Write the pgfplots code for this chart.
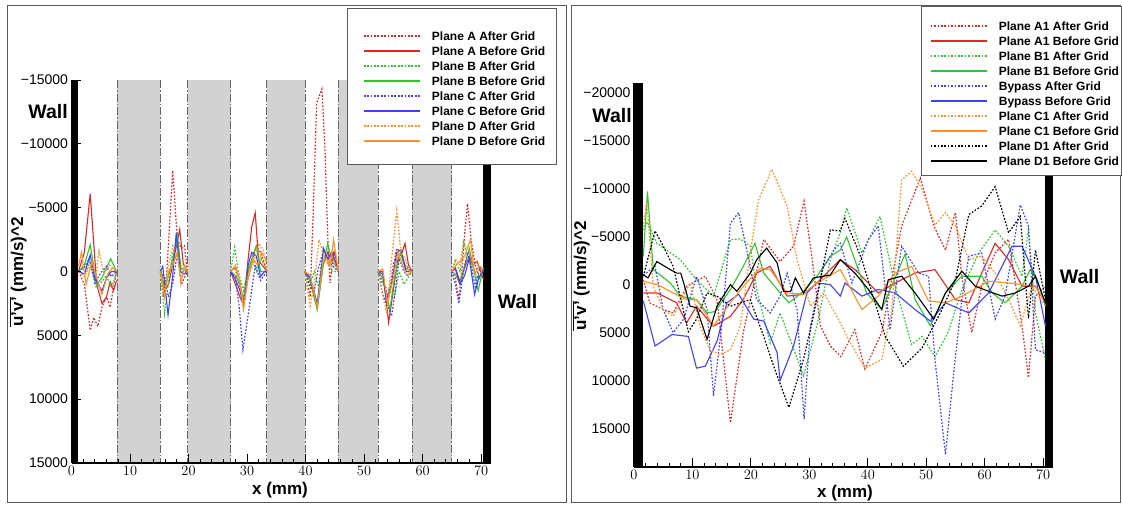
\documentclass[border=0pt]{standalone}
\usepackage{fontspec}
\setmainfont{Liberation Sans}
\usepackage{pgfplots}
\pgfplotsset{compat=1.18}

\definecolor{cR}{RGB}{225,40,40}
\definecolor{cG}{RGB}{45,200,45}
\definecolor{cB}{RGB}{65,65,250}
\definecolor{cO}{RGB}{255,145,40}

\tikzset{
  aft/.style={line width=1.2pt, dash pattern=on 1.7pt off 1.7pt},
  bef/.style={line width=1.1pt, solid},
  band/.style={black!60, line width=0.9pt, dash pattern=on 8pt off 2pt on 1.5pt off 2pt},
}
\pgfplotsset{
  panel/.style={
    scale only axis, anchor=south west, clip=false, axis on top,
    axis x line*=bottom, axis y line*=left,
    axis line style={-, line width=1.2pt},
    xmin=0, xmax=71.7, xtick={0,10,...,70}, minor x tick num=4,
    tick align=inside, major tick length=9pt, minor tick length=4.5pt,
    every tick/.style={black, line width=1pt},
    y dir=reverse, scaled y ticks=false,
    tick label style={font=\fontsize{14}{14}\selectfont},
    unbounded coords=jump,
    legend image code/.code={\draw[##1] plot coordinates {(0pt,0.2pt) (56pt,0.2pt)};},
    legend cell align=left,
    legend style={draw=none, fill=none, inner sep=0pt, anchor=north west,
      font=\bfseries\fontsize{12}{12}\selectfont,
      row sep=6.4pt, column sep=11.5pt,
      nodes={inner sep=0pt, text height=8.6pt, text depth=0pt}},
  },
}

\begin{document}
\begin{tikzpicture}
\path[use as bounding box] (0,0) rectangle (1122pt,506pt);
\draw[gray!70!black, line width=0.9pt] (7pt,4pt) rectangle (566pt,501pt);
\draw[gray!70!black, line width=0.9pt] (571pt,4pt) rectangle (1120pt,501pt);

% ---------------- left panel ----------------
\begin{axis}[panel, at={(71.5pt,43pt)}, width=419.5pt, height=383pt,
  ymin=-15000, ymax=15000,
  ytick={-15000,-10000,-5000,0,5000,10000,15000},
  yticklabels={−15000,−10000,−5000,0,5000,10000,15000},
  legend style={at={(axis description cs:0.6949,1.1261)}}]

\foreach \a/\b in {7.8/15.2, 19.9/27.2, 33.4/39.9, 45.6/52.4, 58.2/65.0}{
  \edef\tmp{\noexpand\fill[gray!35] (axis cs:\a,-15000) rectangle (axis cs:\b,15000);
    \noexpand\draw[band] (axis cs:\a,-15000) -- (axis cs:\a,15000);
    \noexpand\draw[band] (axis cs:\b,-15000) -- (axis cs:\b,15000);}
  \tmp
}
\fill[black] (axis cs:0,-15000) rectangle (axis cs:1.15,15000);
\fill[black] (axis cs:70.35,-15000) rectangle (axis cs:71.7,15000);

% Plane A After Grid
\addplot[color=cR, aft] coordinates {
 (1.2,0) (2.2,1000) (3.2,4600) (3.8,3600) (4.5,4300) (5.2,2800) (6.0,2000) (6.6,2800) (7.2,1200) (7.7,0) (7.75,nan)
 (15.2,0) (15.7,2000) (16.3,0) (17.3,-7900) (18.1,-2500) (18.8,-1800) (19.3,-2000) (19.8,0) (19.85,nan)
 (27.2,0) (28,-300) (28.8,1500) (29.4,2000) (30.2,500) (31,-1000) (31.6,-2000) (32.3,-1500) (33.4,0) (33.45,nan)
 (39.9,0) (40.8,2000) (41.3,-4500) (41.9,-13200) (42.8,-14300) (43.3,-9800) (43.9,-1400) (44.2,900) (44.8,-1400) (45.6,0) (45.65,nan)
 (52.4,0) (53.2,800) (54.2,2000) (55,-500) (55.6,-1800) (56.3,-1500) (57,-500) (58.2,0) (58.25,nan)
 (65,0) (65.6,500) (66.2,2200) (66.8,-500) (67.3,-3500) (67.7,-5300) (68.3,-2500) (69,-500) (69.7,500) (70.4,-300)};
\addlegendentry{Plane A After Grid}
% Plane A Before Grid
\addplot[color=cR, bef] coordinates {
 (1.2,0) (2.2,-1500) (3.2,-6100) (4.3,1000) (5.2,2500) (6.0,2000) (6.6,800) (7.2,1500) (7.7,700) (7.75,nan)
 (15.2,0) (15.9,1500) (16.6,1000) (17.5,-1000) (18.5,-3300) (19.1,-600) (19.8,0) (19.85,nan)
 (27.2,0) (28,1000) (28.8,2000) (29.4,2600) (30.2,-1000) (30.8,-3500) (31.4,-4600) (32,-800) (32.6,-500) (33.4,0) (33.45,nan)
 (39.9,0) (40.8,500) (42,2800) (43,-500) (43.8,-1500) (44.5,-800) (45,-1500) (45.6,0) (45.65,nan)
 (52.4,0) (53.2,0) (54.2,4000) (55,1500) (55.8,-1000) (56.5,-1500) (57,-2200) (57.6,-500) (58.2,0) (58.25,nan)
 (65,0) (65.6,-300) (66.4,800) (67.2,-300) (68,-1200) (68.6,-500) (69.3,-800) (70.4,600)};
\addlegendentry{Plane A Before Grid}
% Plane B After Grid
\addplot[color=cG, aft] coordinates {
 (1.2,0) (2.2,300) (3.2,-800) (4.2,1200) (5.2,800) (6,300) (6.8,1300) (7.7,100) (7.75,nan)
 (15.2,0) (15.9,3300) (16.6,800) (17.3,-1500) (18.1,-2200) (18.8,0) (19.8,0) (19.85,nan)
 (27.2,0) (27.9,-1900) (28.5,0) (29.4,1500) (30.2,-200) (31,-1000) (31.6,0) (32.4,-1000) (33.4,0) (33.45,nan)
 (39.9,0) (40.8,1000) (41.5,0) (42.2,1200) (43,-1800) (43.8,-800) (44.5,0) (45.6,0) (45.65,nan)
 (52.4,0) (53.2,1000) (54.4,1500) (55.2,2000) (56,0) (56.8,1000) (57.5,500) (58.2,0) (58.25,nan)
 (65,0) (65.6,-800) (66.4,0) (67,-2300) (67.7,-1200) (68.5,-500) (69.3,500) (70.4,0)};
\addlegendentry{Plane B After Grid}
% Plane B Before Grid
\addplot[color=cG, bef] coordinates {
 (1.2,0) (2.2,-500) (3.2,-2100) (4.3,1000) (5.2,500) (6.0,-300) (6.7,-1000) (7.7,0) (7.75,nan)
 (15.2,-200) (15.9,1200) (16.6,300) (17.3,-1000) (18.1,-2800) (18.7,-300) (19.8,0) (19.85,nan)
 (27.2,0) (28,300) (28.8,1000) (29.4,2200) (30.2,0) (31,-1300) (31.6,-2000) (32.3,0) (33.4,0) (33.45,nan)
 (39.9,0) (40.8,800) (42,3000) (43,-500) (43.8,-2200) (44.5,-800) (45.6,-200) (45.65,nan)
 (52.4,0) (53.2,500) (54.4,3000) (55.2,500) (56.2,-1500) (57,-300) (58.2,0) (58.25,nan)
 (65,0) (65.6,200) (66.4,1000) (67.2,-500) (68,-1800) (68.8,0) (69.5,1500) (70.4,-300)};
\addlegendentry{Plane B Before Grid}
% Plane C After Grid
\addplot[color=cB, aft] coordinates {
 (1.2,0) (2.2,-300) (3,-1000) (4,900) (5,100) (6,-400) (6.8,400) (7.7,0) (7.75,nan)
 (15.2,0) (15.9,500) (16.6,2000) (17.3,1000) (18.1,-1500) (18.8,1000) (19.8,0) (19.85,nan)
 (27.2,0) (28,500) (28.6,2500) (29.3,6100) (30,4000) (30.8,1500) (31.4,-500) (32.3,700) (33.4,0) (33.45,nan)
 (39.9,0) (40.8,1200) (41.5,1500) (42.2,-300) (43,-1500) (43.8,-1000) (44.5,-500) (45.6,0) (45.65,nan)
 (52.4,0) (53.2,1800) (54.7,3500) (55.4,1300) (56,-1000) (56.8,0) (57.5,300) (58.2,0) (58.25,nan)
 (65,0) (65.6,1000) (66.2,2500) (67,0) (67.7,-1500) (68.3,-500) (69,1200) (69.8,-300) (70.4,0)};
\addlegendentry{Plane C After Grid}
% Plane C Before Grid
\addplot[color=cB, bef] coordinates {
 (1.2,0) (2.2,200) (3.2,-1300) (4,600) (5.2,1500) (6,500) (6.8,0) (7.7,0) (7.75,nan)
 (15.2,0) (15.6,-400) (16.5,3400) (17.3,300) (17.9,-3000) (18.6,0) (19.2,200) (19.8,0) (19.85,nan)
 (27.2,0) (28,600) (28.8,1500) (29.4,2700) (30.2,-500) (30.8,-1500) (31.6,-1200) (32.3,400) (33,0) (33.4,0) (33.45,nan)
 (39.9,0) (40.8,500) (42,2500) (43.1,-1800) (43.8,-1000) (44.5,-1500) (45.6,0) (45.65,nan)
 (52.4,0) (53.2,200) (53.8,2200) (54.6,1200) (55.6,-1500) (56.3,-1700) (57.2,0) (58.2,0) (58.25,nan)
 (65,0) (65.6,-200) (66.4,1000) (67.2,300) (68,-1000) (68.9,1800) (69.6,500) (70.4,0)};
\addlegendentry{Plane C Before Grid}
% Plane D After Grid
\addplot[color=cO, aft] coordinates {
 (1.2,0) (2.2,400) (3.2,-500) (4.2,200) (4.7,-1600) (5.5,200) (6.5,-500) (7.7,0) (7.75,nan)
 (15.2,0) (15.9,1500) (16.6,-500) (17.3,-2000) (18.1,-1000) (18.8,500) (19.8,0) (19.85,nan)
 (27.2,0) (28,-500) (28.6,200) (29.4,2700) (30,600) (31,-500) (32,-2200) (32.8,-1700) (33.4,0) (33.45,nan)
 (39.9,0) (40.8,2700) (41.5,1000) (42.3,-2500) (43,-1500) (43.8,-500) (44.5,-1200) (45.6,0) (45.65,nan)
 (52.4,0) (53,1500) (53.9,3300) (54.6,-500) (55.6,-4800) (56.3,-1500) (57,-1000) (57.6,0) (58.2,0) (58.25,nan)
 (65,0) (65.6,-1000) (66.4,-500) (67,-2200) (67.8,-1800) (68.6,-500) (69.3,-800) (70.4,0)};
\addlegendentry{Plane D After Grid}
% Plane D Before Grid
\addplot[color=cO, bef] coordinates {
 (1.2,-400) (1.7,-1500) (2.5,1000) (3.5,-800) (4.5,800) (5.2,1800) (6.2,200) (7,-300) (7.7,0) (7.75,nan)
 (15.2,0) (15.9,2000) (16.6,0) (17.3,-500) (18.1,-1500) (18.7,1000) (19.3,-500) (19.8,0) (19.85,nan)
 (27.2,0) (28,-400) (28.8,800) (29.4,3000) (30.2,500) (31,-1000) (31.8,-500) (32.5,-1500) (33.4,-800) (33.45,nan)
 (39.9,0) (40.8,300) (42,2800) (43,-900) (43.6,-1000) (44.2,-500) (44.8,-2500) (45.6,0) (45.65,nan)
 (52.4,0) (53.2,-200) (54,2500) (55,500) (55.8,-1500) (56.6,-500) (57.3,300) (58.2,0) (58.25,nan)
 (65,0) (65.6,-400) (66.4,-800) (67.2,-1200) (68.2,-2500) (68.9,200) (69.6,-400) (70.4,-200)};
\addlegendentry{Plane D Before Grid}

\draw[fill=white, draw=gray!70!black, line width=0.8pt]
  (axis description cs:0.6567,1.1880) rectangle (axis description cs:1.1550,0.7807);
\end{axis}

% ---------------- right panel ----------------
\begin{axis}[panel, at={(634pt,39pt)}, width=419pt, height=384pt,
  ymin=-21000, ymax=19000,
  ytick={-20000,-15000,-10000,-5000,0,5000,10000,15000},
  yticklabels={−20000,−15000,−10000,−5000,0,5000,10000,15000},
  legend style={at={(axis description cs:0.7064,1.1596)}}]

\fill[black] (axis cs:0,-21000) rectangle (axis cs:1.55,19000);
\fill[black] (axis cs:70.4,-21000) rectangle (axis cs:71.7,19000);

% Plane A1 After Grid
\addplot[color=cR, aft] coordinates {
 (1.6,-500) (2.7,1900) (5,2600) (6.7,2950) (9,170) (12.2,-870) (14.2,1560) (16.5,14400) (18.7,5000)
 (22.2,-4700) (25,-2400) (27.3,-4000) (29.1,-8700) (30.5,-2600) (31.9,4300) (33.6,6400) (35.4,7500)
 (37.8,4700) (39.5,8800) (42.4,5000) (45.8,-6100) (49,-11100) (51.3,-6100) (53.3,-3600) (55,-7500)
 (56.1,-870) (57.8,5000) (59.5,170) (61.8,-3300) (64.1,-4700) (66.4,4300) (67.5,9700) (68.7,1200) (70.4,170)};
\addlegendentry{Plane A1 After Grid}
% Plane A1 Before Grid
\addplot[color=cR, bef] coordinates {
 (1.6,870) (4,870) (7.3,1900) (9,4000) (10.7,2250) (13.6,4340) (16.5,3300) (18.7,1560) (21,-1200)
 (23.3,-1900) (26.2,1200) (29,1000) (31.3,-170) (35.3,-2600) (37.8,-1560) (41.8,870) (44.7,-170)
 (48.1,-1200) (51.5,-1560) (55,1560) (57.3,1900) (59.5,-1200) (61.8,-4300) (64.1,-2600) (66.4,170)
 (68.7,170) (70.4,1900)};
\addlegendentry{Plane A1 Before Grid}
% Plane B1 After Grid
\addplot[color=cG, aft] coordinates {
 (1.6,-5700) (2.3,-6500) (3.9,-4300) (7.9,-2600) (10.7,-500) (13.6,1200) (16.5,-4700) (18.2,-4750)
 (19.9,-4000) (21,500) (23.3,6100) (25,2950) (26.7,5700) (29,9500) (31.3,4300) (33.6,-2600) (35.3,-5400)
 (36.4,-8000) (39,-3300) (42.1,-7100) (44.7,170) (47.5,6250) (49.3,5400) (51.5,7500) (53.8,4900)
 (56.1,500) (59,-3300) (61.8,-5700) (64.1,-4000) (66.4,-870) (67.5,-5700) (68.7,2950) (70.4,7800)};
\addlegendentry{Plane B1 After Grid}
% Plane B1 Before Grid
\addplot[color=cG, bef] coordinates {
 (1.6,-2950) (2.3,-9700) (3.3,-1560) (6.2,-170) (7.9,1200) (10.7,1560) (12.5,2950) (13.9,2800)
 (16.5,500) (18.7,-1900) (20.7,-4300) (22.2,-1200) (24.5,500) (26.5,1900) (29,700) (31.3,-870)
 (33.6,-2950) (35.3,-3600) (36.4,-4960) (39.8,870) (42.4,2600) (46.4,-3200) (48.1,1560) (50.7,4270)
 (53.3,870) (56.1,-870) (59.5,-870) (61.3,870) (63.5,1900) (66.4,170) (67.8,-1560) (69,-500) (70.4,2250)};
\addlegendentry{Plane B1 Before Grid}
% Bypass After Grid
\addplot[color=cB, aft] coordinates {
 (1.6,-1000) (3.6,-1900) (5,2600) (6.7,5000) (8.5,3600) (10.7,-870) (12.5,2600) (13.6,11600) (15,4300)
 (16.5,-6400) (17.9,-7500) (19.3,-3600) (21,1560) (23.3,2950) (25,1200) (26.2,-1200) (27.9,2600)
 (29.1,14000) (30.2,4300) (32.2,-1560) (34.2,-3600) (35.3,-4300) (37.3,-170) (40.1,-4700) (41.8,-6100)
 (43.8,4700) (45.8,-4000) (48.7,-1200) (50.4,-870) (51.5,7800) (53.3,17700) (54.7,9200) (56.1,1560)
 (57.3,-2950) (59.5,-3300) (61.8,3600) (63.5,1200) (65.3,-5400) (66.1,-8300) (67.5,-6100) (68.7,6800) (70.4,7100)};
\addlegendentry{Bypass After Grid}
% Bypass Before Grid
\addplot[color=cB, bef] coordinates {
 (1.6,1700) (3.6,6400) (6.5,5200) (9.3,5400) (10.7,8700) (12.2,8500) (14.2,5900) (15.9,1900) (17.9,1000)
 (20.5,3600) (22.2,3800) (24.5,7100) (25,10000) (27.3,6400) (29.6,870) (31.3,-170) (33.6,0) (35.3,1200)
 (36.1,-170) (39,1200) (41.8,500) (44.7,870) (48.1,2600) (50.7,3800) (53.3,1900) (57.3,2950) (60.7,870)
 (64.7,-4000) (66.4,-4000) (68.7,-870) (70.4,4300)};
\addlegendentry{Bypass Before Grid}
% Plane C1 After Grid
\addplot[color=cO, aft] coordinates {
 (1.6,-6000) (2.2,-8700) (3.3,170) (5,2600) (6.7,3300) (9.6,-170) (11.3,4300) (13,6800) (14.7,7300)
 (16.5,6800) (18.2,4300) (19.9,-3300) (21.3,-8800) (23.6,-12000) (26.2,-8200) (27.9,-2600) (30.2,2250)
 (32.5,870) (35.3,4000) (36.7,5700) (39.5,8700) (42.4,7800) (44.1,2600) (45.8,-10900) (47.5,-11800)
 (49.3,-9900) (51.5,-6200) (53.3,-7500) (55,-6100) (57.3,-2600) (59.5,-2950) (61.8,-1200) (64.1,1560)
 (66.1,4300) (68.1,170) (70.4,2250)};
\addlegendentry{Plane C1 After Grid}
% Plane C1 Before Grid
\addplot[color=cO, bef] coordinates {
 (1.6,-350) (4,0) (6.7,870) (9,1560) (10.7,1560) (13.6,4300) (16.5,1900) (18.7,170) (21.6,-1700)
 (23.3,-1560) (26.2,870) (29,1000) (31.3,-170) (35.3,-1560) (36.7,0) (39,2600) (41.8,1200) (44.7,-1200)
 (47.5,-1900) (50.4,1700) (53.3,1900) (56.1,1200) (60.7,-350) (64.1,-170) (66.4,0) (68.7,170) (70.4,1900)};
\addlegendentry{Plane C1 Before Grid}
% Plane D1 After Grid
\addplot[color=black, aft] coordinates {
 (1.6,-870) (3.6,-5600) (5,-4000) (6.7,-1900) (9.3,4900) (10.7,3600) (12.5,870) (14.2,1200) (16.5,2250)
 (18.2,1900) (19.9,1560) (22.2,5400) (23.9,8500) (26.5,12800) (29,7800) (30.7,3300) (33.6,-5700)
 (35.3,-5600) (36.1,-6900) (39,-2600) (43,5400) (46.1,8500) (49.3,6600) (52.7,2600) (55,-500)
 (57.3,-7300) (59.5,-8200) (61.8,-10200) (64.1,-5400) (66.1,-7100) (67.5,3500) (68.7,-3600) (70.4,1560)};
\addlegendentry{Plane D1 After Grid}
% Plane D1 Before Grid
\addplot[color=black, bef] coordinates {
 (1.6,-1000) (2.4,-700) (3.9,-2400) (6.2,-1560) (7.3,-1200) (8,-1200) (8.5,-170) (9.6,2250) (10.7,2400)
 (12.5,5700) (14.2,2250) (16.5,0) (17.6,700) (19.9,-1200) (21,-2600) (22.7,-3800) (24.5,-2250) (25.6,700)
 (26.8,700) (27.6,-700) (29,870) (30.7,-700) (33.6,-1000) (35.3,-2600) (37.8,-1200) (40.1,500) (42.4,2600)
 (43.5,-500) (45.8,-870) (48.1,870) (51.3,3600) (53.3,870) (56.1,-1400) (58.4,170) (60.7,700) (63,1200)
 (65.3,870) (67.5,170) (68.7,-870) (70.4,1900)};
\addlegendentry{Plane D1 Before Grid}

\draw[fill=white, draw=gray!70!black, line width=0.8pt]
  (axis description cs:0.6850,1.2005) rectangle (axis description cs:1.1623,0.7604);
\end{axis}

% labels
\node[font=\bfseries\fontsize{17}{17}\selectfont, rotate=90] at (18pt,234pt) {$\overline{\hbox{u'v'}}$ (mm/s)\^{}2};
\node[font=\bfseries\fontsize{17}{17}\selectfont, rotate=90] at (581pt,230pt) {$\overline{\hbox{u'v'}}$ (mm/s)\^{}2};
\node[font=\bfseries\fontsize{17}{17}\selectfont] at (280pt,16pt) {x (mm)};
\node[font=\bfseries\fontsize{17}{17}\selectfont] at (845pt,13pt) {x (mm)};
\node[font=\bfseries\fontsize{19.5}{19.5}\selectfont] at (48pt,394pt) {Wall};
\node[font=\bfseries\fontsize{19.5}{19.5}\selectfont] at (517.5pt,204pt) {Wall};
\node[font=\bfseries\fontsize{19.5}{19.5}\selectfont] at (612pt,390pt) {Wall};
\node[font=\bfseries\fontsize{19.5}{19.5}\selectfont] at (1079.5pt,229pt) {Wall};
\end{tikzpicture}
\end{document}
